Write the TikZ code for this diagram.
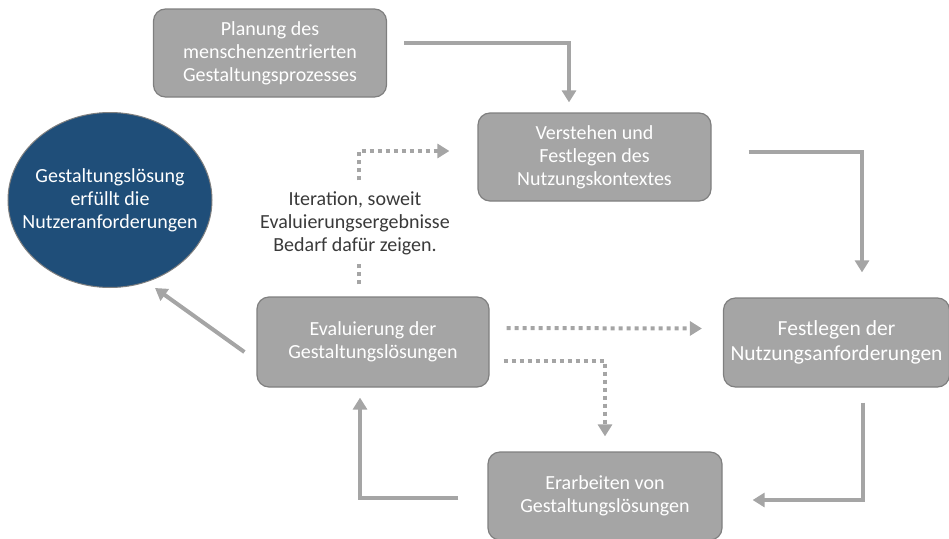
\documentclass[tikz,border=0pt]{standalone}
\usepackage{fontspec}
\setmainfont{Carlito}
\usetikzlibrary{arrows.meta,shapes.geometric}
\definecolor{boxgray}{HTML}{A5A5A5}
\definecolor{boxline}{HTML}{7F7F7F}
\definecolor{goalblue}{HTML}{1F4E79}
\definecolor{itertext}{HTML}{3A3A3A}

\begin{document}
\begin{tikzpicture}[x=1pt, y=-1pt]
\tikzset{stepbox/.style={draw=boxline, line width=1.2pt, fill=boxgray, rounded corners=12pt,
text=white, align=center, minimum width=233pt, minimum height=88pt, inner sep=0pt,
font=\fontsize{20}{23}\selectfont}}
\tikzset{flow/.style={draw=boxgray, line width=4pt, -{Triangle[width=14pt,length=12pt]}}}
\tikzset{iterflow/.style={flow, dash pattern=on 4pt off 4pt}}
%\tikzset{every node/.style={draw=red}}
\useasboundingbox (0,0) rectangle (949,538);
\node[stepbox] (plan) at (270,53) {Planung des\\menschenzentrierten\\Gestaltungsprozesses};
\node[stepbox] (verst) at (594.5,157) {Verstehen und\\Festlegen des\\Nutzungskontextes};
\node[stepbox, minimum width=226pt, minimum height=89pt, font=\fontsize{21.5}{25.5}\selectfont]
  (festl) at (836.5,342.5) {Festlegen der\\Nutzungsanforderungen};
\node[stepbox, minimum width=232pt, minimum height=90pt] (eval) at (373,342) {Evaluierung der\\Gestaltungsl\"osungen};
\node[stepbox, minimum width=234pt] (erarb) at (605,496) {Erarbeiten von\\Gestaltungsl\"osungen};
\node[ellipse, draw=boxline, line width=1pt, fill=goalblue, text=white, align=center,
  minimum width=204pt, minimum height=175pt, inner xsep=-20pt, inner ysep=0pt,
  font=\fontsize{20}{23}\selectfont]
  (goal) at (110,200) {Gestaltungsl\"osung\\erf\"ullt die\\Nutzeranforderungen};
\draw[flow] ([shift={(17pt,10pt)}]plan.east) -| ([shift={(-25.5pt,10pt)}]verst.north);
\draw[flow] ([shift={(37pt,5pt)}]verst.east) -| ([shift={(25.5pt,25pt)}]festl.north);
\draw[flow] ([shift={(26.5pt,-15pt)}]festl.south) |- ([shift={(30pt,-4pt)}]erarb.east);
\draw[flow] ([shift={(-29pt,-2pt)}]erarb.west) -| ([shift={(-13pt,-10pt)}]eval.south);
\draw[flow] ([shift={(-12pt,-10pt)}]eval.west) -- ([shift={(45pt,-88pt)}]goal.center);
\draw[iterflow] ([shift={(17pt,14pt)}]eval.east) -- ([shift={(-21pt,14pt)}]festl.west);
\draw[iterflow] ([shift={(14pt,-19pt)}]eval.east) -| ([shift={(0pt,15pt)}]erarb.north);
\draw[iterflow] ([shift={(-14pt,12pt)}]eval.north) |- ([shift={(-28pt,6pt)}]verst.west);
\node[fill=white, text=itertext, align=center, inner xsep=4pt, inner ysep=9pt,
  font=\fontsize{20}{23}\selectfont] (iter) at (355,223)
  {Iteration, soweit\\Evaluierungsergebnisse\\Bedarf daf\"ur zeigen.};
\end{tikzpicture}
\end{document}
